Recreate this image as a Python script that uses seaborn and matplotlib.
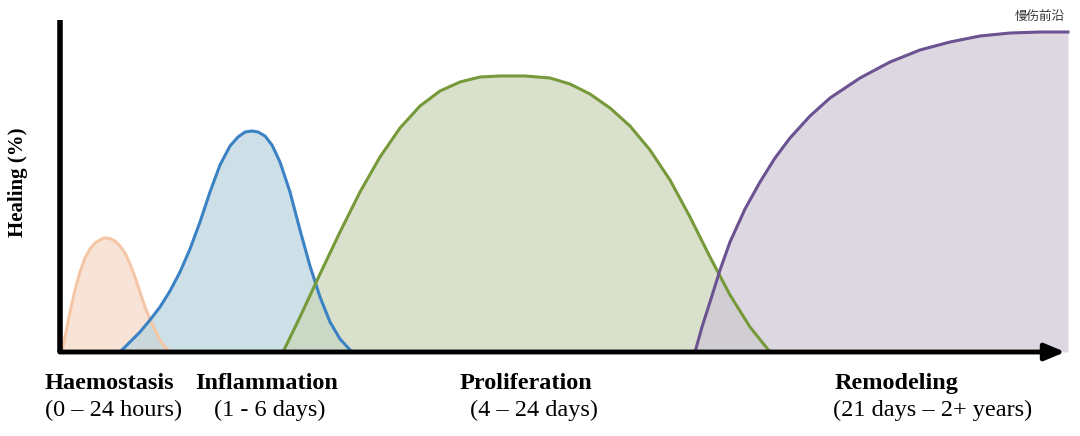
import matplotlib.pyplot as plt
import seaborn as sns
import pandas as pd

# curve points (x position, healing height)
haem_x = [62, 66, 70, 75, 80, 85, 90, 95, 100, 104, 107, 111, 115, 120, 125, 130, 135, 140, 145, 150, 155, 160, 165, 170]
haem_y = [0, 20, 40, 62, 80, 94, 103, 109, 112, 114, 114, 113, 111, 106, 99, 88, 75, 60, 45, 33, 22, 12, 5, 0]
infl_x = [120, 130, 140, 150, 160, 170, 180, 190, 200, 210, 220, 230, 238, 245, 252, 258, 265, 272, 280, 290, 300, 310, 320, 330, 340, 352]
infl_y = [0, 10, 20, 32, 45, 61, 80, 103, 130, 160, 187, 206, 215, 220, 221, 220, 216, 207, 190, 160, 122, 86, 55, 30, 13, 0]
prol_x = [283, 300, 320, 340, 360, 380, 400, 420, 440, 460, 480, 500, 525, 550, 570, 590, 610, 630, 650, 670, 690, 710, 730, 750, 770]
prol_y = [0, 35, 78, 120, 160, 195, 224, 246, 261, 270, 275, 276, 276, 274, 268, 258, 244, 226, 202, 172, 135, 95, 57, 25, 0]
remo_x = [695, 702, 710, 720, 730, 745, 760, 775, 790, 810, 830, 860, 890, 920, 950, 980, 1010, 1040, 1068]
remo_y = [0, 25, 50, 82, 110, 143, 170, 194, 214, 236, 254, 274, 290, 302, 310, 316, 319, 320, 320]

phases = ['Haemostasis', 'Inflammation', 'Proliferation', 'Remodeling']
ranges = ['(0 – 24 hours)', '(1 - 6 days)', '(4 – 24 days)', '(21 days – 2+ years)']
line_colors = ['#f5c6a5', '#3b82c4', '#76993a', '#6b5290']
fill_colors = ['#f6d9c6', '#b9d3de', '#c9d5b8', '#cfc6d6']

fig = plt.figure(figsize=(10.8, 4.36), dpi=100)
ax = fig.add_axes([0, 0, 1, 1])
ax.set_xlim(0, 1080)
ax.set_ylim(-84, 352)
ax.axis('off')

curves = [(haem_x, haem_y), (infl_x, infl_y), (prol_x, prol_y), (remo_x, remo_y)]
for (xs, ys), lc, fc in zip(curves, line_colors, fill_colors):
    df = pd.DataFrame({'x': xs, 'y': ys})
    ax.fill_between(df['x'], df['y'], color=fc, alpha=0.7, lw=0)
    sns.lineplot(data=df, x='x', y='y', ax=ax, color=lc, lw=2.2, estimator=None)

# axes drawn by hand
ax.plot([60, 60], [0, 332], color='black', lw=4, solid_capstyle='butt')
ax.annotate('', xy=(1068, 0), xytext=(57, 0),
            arrowprops=dict(arrowstyle='-|>,head_length=1.2,head_width=0.5', color='black', lw=3.5))
ax.text(18, 170, 'Healing (%)', rotation=90, ha='center', va='center',
        fontfamily='Liberation Serif', fontweight='bold', fontsize=15)

serif = 'Liberation Serif'
label_pos = [(45, 45), (195, 214), (460, 470), (835, 833)]
for name, rng, (px, rx) in zip(phases, ranges, label_pos):
    t1 = ax.text(px, -31, name, ha='left', va='center', fontfamily=serif, fontweight='bold', fontsize=15.5)
    t2 = ax.text(rx, -58, rng, ha='left', va='center', fontfamily=serif, fontsize=15.5)
    # reference glyphs are horizontally stretched
    for t in (t1, t2):
        t.set_fontstretch('expanded')
        t.set_fontsize(17.5)

ax.text(1065, 336, '慢伤前沿', ha='right', va='center',
        fontfamily=['Noto Sans CJK JP', 'Noto Sans CJK SC'], fontsize=9, color='#333333')

fig.savefig('out.png', dpi=100)
